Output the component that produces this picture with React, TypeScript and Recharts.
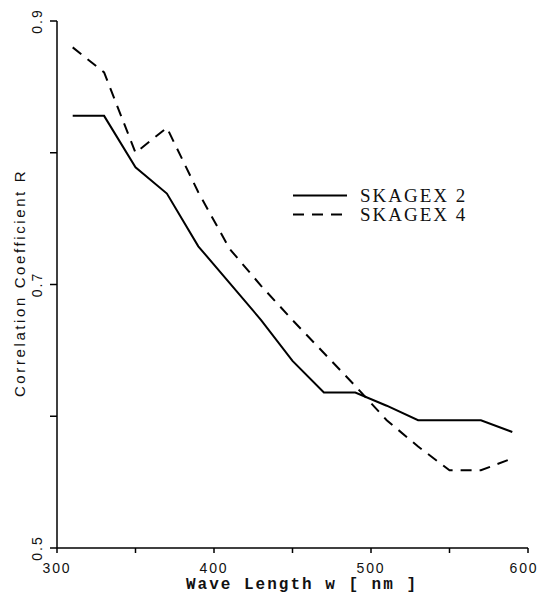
import React from 'react';
import { LineChart, Line, XAxis, YAxis, Legend } from 'recharts';

const waveLengths = [310, 330, 350, 370, 390, 410, 430, 450, 470, 490, 510, 530, 550, 570, 590];
const skagex2 = [0.828, 0.828, 0.789, 0.769, 0.729, 0.701, 0.673, 0.642, 0.618, 0.618, 0.608, 0.597, 0.597, 0.597, 0.588];
const skagex4 = [0.880, 0.861, 0.800, 0.819, 0.770, 0.727, 0.699, 0.673, 0.648, 0.623, 0.597, 0.577, 0.559, 0.559, 0.568];

const xTicks = [300, 350, 400, 450, 500, 550, 600];
const xLabelled = [300, 400, 500, 600];
const yTicks = [0.5, 0.6, 0.7, 0.8, 0.9];
const yLabelled = [0.5, 0.7, 0.9];

const seriesNames = ['SKAGEX 2', 'SKAGEX 4'];

const data = waveLengths.map((w, i) => ({ w, s2: skagex2[i], s4: skagex4[i] }));

const sans = '"Liberation Sans", Arial, sans-serif';

const XTick = (props: any) => {
  const { x, payload } = props;
  if (!xLabelled.includes(payload.value)) return null;
  const cx = Math.min(x, 524);
  return (
    <text x={cx} y={573} textAnchor="middle" fontFamily={sans} fontSize={14} letterSpacing={1.8} fill="#111">
      {String(payload.value)}
    </text>
  );
};

const YTick = (props: any) => {
  const { y, payload } = props;
  if (!yLabelled.includes(payload.value)) return null;
  return (
    <text x={42} y={y} transform={`rotate(-90 42 ${y})`} textAnchor="middle" fontFamily={sans} fontSize={14} letterSpacing={2} fill="#111">
      {payload.value.toFixed(1)}
    </text>
  );
};

const LegendContent = () => (
  <div style={{ display: 'flex', flexDirection: 'column' }}>
    {seriesNames.map((name, i) => (
      <div key={name} style={{ display: 'flex', alignItems: 'center', height: 19 }}>
        <svg width={56} height={19} style={{ display: 'block' }}>
          <line x1={1} y1={9.5} x2={55} y2={9.5} stroke="#000" strokeWidth={2} strokeDasharray={i === 1 ? '11 8' : undefined} />
        </svg>
        <span style={{ marginLeft: 12, fontFamily: '"Liberation Serif", "Times New Roman", serif', fontSize: 19, letterSpacing: 2, lineHeight: '19px', color: '#111', whiteSpace: 'nowrap' }}>
          {name}
        </span>
      </div>
    ))}
  </div>
);

export default function App() {
  return (
    <div style={{ position: 'absolute', left: 0, top: 0, width: 541, height: 593, background: '#fff' }}>
      <LineChart width={541} height={593} data={data} margin={{ top: 21, right: 13, bottom: 0, left: 0 }}>
        <XAxis
          dataKey="w"
          type="number"
          domain={[300, 600]}
          ticks={xTicks}
          height={45}
          stroke="#000"
          strokeWidth={1.5}
          tickSize={5}
          tickLine={{ stroke: '#000', strokeWidth: 1.5 }}
          tick={<XTick />}
          interval={0}
        />
        <YAxis
          type="number"
          domain={[0.5, 0.9]}
          ticks={yTicks}
          width={57}
          stroke="#000"
          strokeWidth={1.5}
          tickSize={7}
          tickLine={{ stroke: '#000', strokeWidth: 1.5 }}
          tick={<YTick />}
          interval={0}
        />
        <Legend layout="vertical" align="center" verticalAlign="middle" content={<LegendContent />} wrapperStyle={{ left: 292, top: 186, width: 'auto', height: 'auto' }} />
        <Line dataKey="s2" name={seriesNames[0]} stroke="#000" strokeWidth={2} dot={false} isAnimationActive={false} type="linear" />
        <Line dataKey="s4" name={seriesNames[1]} stroke="#000" strokeWidth={2} strokeDasharray="11 8" dot={false} isAnimationActive={false} type="linear" />
        <text x={25} y={283} transform="rotate(-90 25 283)" textAnchor="middle" fontFamily={sans} fontSize={15} letterSpacing={2.6} fill="#111">
          Correlation Coefficient R
        </text>
        <text x={302} y={589} textAnchor="middle" fontFamily='"Liberation Mono", "Courier New", monospace' fontWeight="bold" fontSize={16} letterSpacing={2} fill="#111">
          Wave Length w [ nm ]
        </text>
      </LineChart>
    </div>
  );
}
